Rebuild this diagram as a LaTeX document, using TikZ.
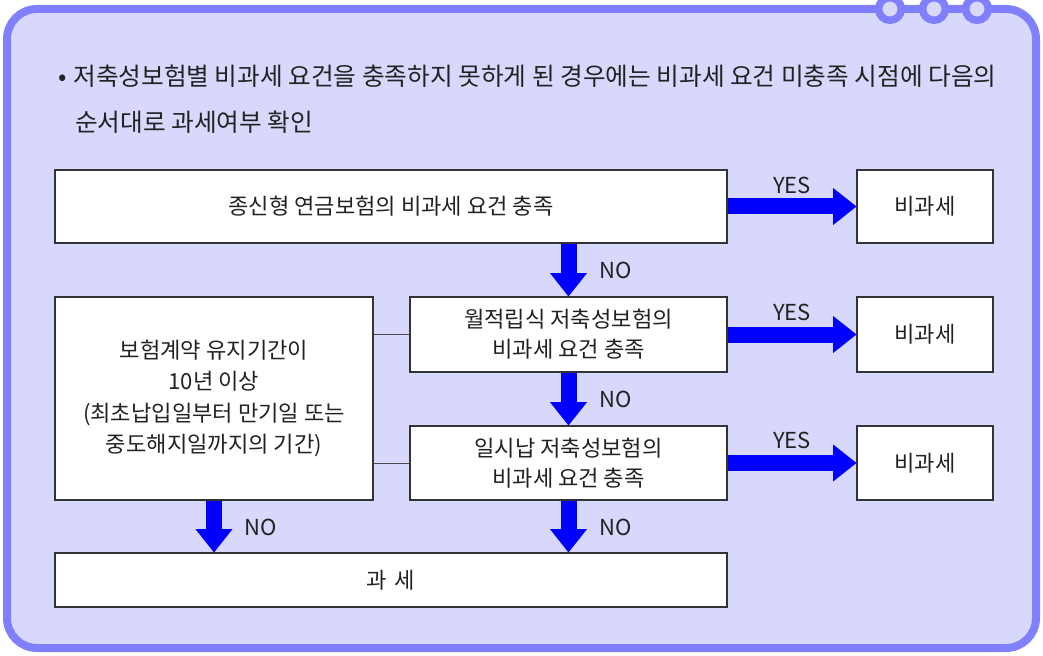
\documentclass[tikz,border=0pt]{standalone}
\usepackage{fontspec}
\setmainfont{Noto Sans CJK KR}
\usetikzlibrary{arrows.meta,calc}
\definecolor{framefill}{RGB}{216,216,252}
\definecolor{frameline}{RGB}{128,128,255}
\definecolor{txt}{RGB}{34,34,34}
\definecolor{arrowblue}{RGB}{0,0,255}
\begin{document}
\begin{tikzpicture}[x=0.75pt,y=-0.75pt,
  box/.style={draw=black!80,line width=0.8pt,fill=white,inner sep=0pt,text=txt,
    font=\fontsize{16.6pt}{22.5pt}\selectfont,align=center},
  bigarrow/.style={draw=arrowblue,line width=12pt,
    -{Triangle[width=27.75pt,length=17.5pt,line width=0pt]}},
  lbl/.style={text=txt,font=\fontsize{16.5pt}{18pt}\selectfont,inner sep=0pt},
  link/.style={draw=black!70,line width=0.7pt}]
\useasboundingbox (0,0) rectangle (1043,656);
% frame
\draw[frameline,fill=framefill,line width=6pt,rounded corners=22.5pt] (7,9) rectangle (1036,648);
\foreach \cx in {890,934,977}{
  \draw[frameline,fill=framefill,line width=5.6pt] (\cx,9) circle[radius=8.5pt];
}
% title
\node[anchor=base west,text=txt,inner sep=0pt,font=\fontsize{18.5pt}{20pt}\selectfont] (t1) at (58,86) {•\hspace{5pt}저축성보험별 비과세 요건을 충족하지 못하게 된 경우에는 비과세 요건 미충족 시점에 다음의};
\node[anchor=base west,text=txt,inner sep=0pt,font=\fontsize{18.5pt}{20pt}\selectfont] (t2) at (75,132) {순서대로 과세여부 확인};
% boxes
\node[box,minimum width=504pt,minimum height=54.75pt] (A) at (391,206.5) {종신형 연금보험의 비과세 요건 충족};
\node[box,minimum width=102pt,minimum height=54.75pt] (B) at (925,206.5) {비과세};
\node[box,minimum width=237.75pt,minimum height=56.25pt] (C) at (568.5,334.5) {월적립식 저축성보험의\\비과세 요건 충족};
\node[box,minimum width=102pt,minimum height=56.25pt] (D) at (925,334.5) {비과세};
\node[box,minimum width=237.75pt,minimum height=55.5pt] (E) at (568.5,463) {일시납 저축성보험의\\비과세 요건 충족};
\node[box,minimum width=102pt,minimum height=55.5pt] (F) at (925,463) {비과세};
\node[box,minimum width=238.5pt,minimum height=152.25pt,font=\fontsize{16.6pt}{23.4pt}\selectfont] (G) at (214,398.5) {보험계약 유지기간이\\10년 이상\\(최초납입일부터 만기일 또는\\중도해지일까지의 기간)};
\node[box,minimum width=504pt,minimum height=40.5pt] (H) at (391,580) {과\hspace{6pt}세};
% links
\draw[link] (C.west) -- (C.west -| G.east);
\draw[link] (E.west) -- (E.west -| G.east);
% arrows
\draw[bigarrow] (A.east) -- (B.west);
\draw[bigarrow] (C.east) -- (D.west);
\draw[bigarrow] (E.east) -- (F.west);
\draw[bigarrow] (A.south -| C.north) -- (C.north);
\draw[bigarrow] (C.south) -- (E.north);
\draw[bigarrow] (E.south) -- (E.south |- H.north);
\draw[bigarrow] (G.south) -- (G.south |- H.north);
% labels
\node[lbl] (y1) at (792,185) {YES};
\node[lbl] (y2) at (792,312) {YES};
\node[lbl] (y3) at (792,440) {YES};
\node[lbl] (n1) at (616,270) {NO};
\node[lbl] (n2) at (616,399) {NO};
\node[lbl] (n3) at (616,527) {NO};
\node[lbl] (n4) at (261,527) {NO};
\end{tikzpicture}
\end{document}
